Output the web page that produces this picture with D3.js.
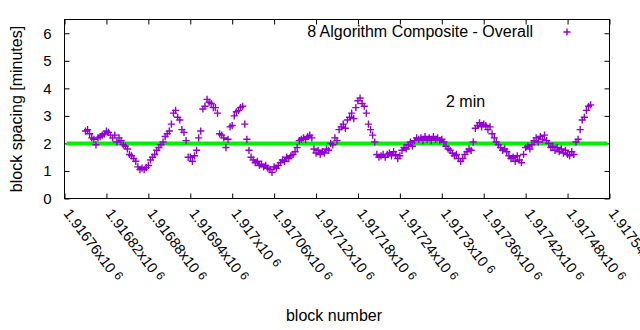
<!DOCTYPE html>
<html>
<head>
<meta charset="utf-8">
<script src="https://cdn.jsdelivr.net/npm/d3@7"></script>
<style>
  body { margin: 0; background: #fff; }
  svg { display: block; font-family: "Liberation Sans", Arial, sans-serif; }
</style>
</head>
<body>
<script>
// block spacing (minutes), one sample every 3 blocks starting at firstBlock
var firstBlock = 1916790;
var blockStep = 3;
var spacing = [
  2.45, 2.5, 2.35, 2.2, 2.15, 1.95, 2.2, 2.25, 2.3, 2.35,
  2.45, 2.4, 2.3, 2.2, 2.3, 2.05, 2.2, 2.1, 1.95, 1.9,
  1.8, 1.6, 1.55, 1.45, 1.35, 1.15, 1.05, 1.1, 1.05, 1.12,
  1.2, 1.4, 1.5, 1.6, 1.75, 1.85, 1.95, 2.05, 2.25, 2.35,
  2.45, 2.7, 3.1, 3.2, 2.95, 2.85, 2.5, 2.4, 2.1, 1.5,
  1.5, 1.35, 1.55, 1.75, 2.2, 2.45, 3.25, 3.35, 3.6, 3.5,
  3.45, 3.3, 3.3, 3.1, 2.35, 2.3, 2.2, 1.85, 2.15, 2.6,
  2.65, 3.0, 3.15, 3.2, 3.3, 3.35, 2.7, 2.15, 1.75, 1.5,
  1.4, 1.3, 1.35, 1.2, 1.25, 1.15, 1.2, 1.1, 1.05, 0.95,
  1.15, 1.1, 1.2, 1.3, 1.4, 1.35, 1.5, 1.45, 1.55, 1.6,
  1.7, 1.85, 2.1, 2.15, 2.2, 2.15, 2.25, 2.3, 2.2, 1.8,
  1.65, 1.75, 1.6, 1.7, 1.65, 1.8, 1.75, 2.0, 1.95, 2.2,
  2.1, 2.5, 2.6, 2.7, 2.55, 2.85, 2.95, 3.1, 2.9, 3.3,
  3.55, 3.65, 3.45, 3.35, 3.1, 2.7, 2.5, 2.3, 2.05, 1.6,
  1.5, 1.55, 1.6, 1.5, 1.6, 1.65, 1.55, 1.7, 1.6, 1.45,
  1.55, 1.75, 1.85, 1.8, 1.95, 2.05, 1.9, 2.1, 2.2, 2.15,
  2.2, 2.1, 2.25, 2.15, 2.2, 2.1, 2.25, 2.15, 2.2, 2.1,
  2.15, 2.05, 1.9, 1.8, 1.75, 1.65, 1.55, 1.6, 1.45, 1.35,
  1.45, 1.6, 1.7, 1.8, 1.75, 2.05, 2.55, 2.65, 2.75, 2.6,
  2.7, 2.65, 2.5, 2.6, 2.35, 2.2, 2.05, 1.95, 1.85, 1.75,
  1.8, 1.7, 1.55, 1.45, 1.5, 1.35, 1.55, 1.4, 1.3, 1.6,
  1.85, 1.9, 1.8, 1.95, 2.1, 2.2, 2.05, 2.25, 2.15, 2.3,
  2.1, 2.0, 1.85, 1.9, 1.75, 1.85, 1.7, 1.8, 1.65, 1.75,
  1.6, 1.55, 1.7, 1.6, 2.05, 2.15, 2.5, 2.85, 2.95, 3.2,
  3.35, 3.4
];
var target = 2;  // 2 minute reference line
var xTicks = [1916760, 1916820, 1916880, 1916940, 1917000, 1917060, 1917120,
              1917180, 1917240, 1917300, 1917360, 1917420, 1917480, 1917540];
var yTicks = [0, 1, 2, 3, 4, 5, 6];
var seriesName = "8 Algorithm Composite - Overall";

var W = 640, H = 330;
var plotL = 64.5, plotR = 609.5, plotT = 19.5, plotB = 198.5;

var svg = d3.select("body").append("svg").attr("width", W).attr("height", H);

var x = d3.scaleLinear().domain([1916760, 1917540]).range([plotL, plotR]);
var y = d3.scaleLinear().domain([0, 6.5]).range([plotB, plotT]);

var pts = spacing.map(function(v, i) { return {b: firstBlock + i * blockStep, v: v}; });

// axes with inward ticks, mirrored on top and right
var fmt = function(d) { return String(+(d / 1e6).toFixed(5)); };

var gx = svg.append("g").attr("transform", "translate(0," + plotB + ")")
  .call(d3.axisBottom(x).tickValues(xTicks).tickSizeInner(-5).tickSizeOuter(0).tickFormat(fmt));
gx.selectAll("text").each(function(d) {
  var t = d3.select(this);
  t.text(null)
   .attr("text-anchor", "start")
   .attr("dy", null).attr("y", null)
   .attr("transform", "translate(-2,15) rotate(53)")
   .style("font-size", "14.5px");
  t.append("tspan").text(fmt(d) + "x10");
  t.append("tspan").attr("dx", 4).attr("dy", -3).style("font-size", "12px").text("6");
});

svg.append("g").attr("transform", "translate(0," + plotT + ")")
  .call(d3.axisTop(x).tickValues(xTicks).tickSizeInner(-5).tickSizeOuter(0).tickFormat(""));

var gy = svg.append("g").attr("transform", "translate(" + plotL + ",0)")
  .call(d3.axisLeft(y).tickValues(yTicks).tickSizeInner(-5).tickSizeOuter(0)
    .tickPadding(13).tickFormat(d3.format("d")));
gy.selectAll("text").style("font-size", "15px");

svg.append("g").attr("transform", "translate(" + plotR + ",0)")
  .call(d3.axisRight(y).tickValues(yTicks).tickSizeInner(-5).tickSizeOuter(0).tickFormat(""));

svg.selectAll(".domain").remove();
svg.selectAll(".tick line").attr("stroke", "#000");
svg.selectAll(".tick text").attr("fill", "#000");

// reference line
svg.append("line")
  .attr("x1", x(1916760) + 2).attr("x2", x(1917540) - 2)
  .attr("y1", y(target)).attr("y2", y(target))
  .attr("stroke", "#00ee00").attr("stroke-width", 4);

// points drawn as "+"
var plus = function(cx, cy) {
  return "M" + (cx - 3.6) + "," + cy + "h7.2M" + cx + "," + (cy - 3.6) + "v7.2";
};
svg.append("path")
  .attr("d", pts.map(function(p) { return plus(x(p.b), y(p.v)); }).join(""))
  .attr("fill", "none").attr("stroke", "#9400d3").attr("stroke-width", 1.4);

svg.append("rect")
  .attr("x", plotL).attr("y", plotT).attr("width", plotR - plotL).attr("height", plotB - plotT)
  .attr("fill", "none").attr("stroke", "#000").attr("stroke-width", 1);

// legend
svg.append("text").attr("x", 533).attr("y", 37).attr("text-anchor", "end")
  .style("font-size", "16px").text(seriesName);
svg.append("path").attr("d", plus(567, 32))
  .attr("fill", "none").attr("stroke", "#9400d3").attr("stroke-width", 1.4);

svg.append("text").attr("x", 446).attr("y", 107).style("font-size", "16px").text("2 min");

svg.append("text").attr("x", 334).attr("y", 321).attr("text-anchor", "middle")
  .style("font-size", "16px").text("block number");
svg.append("text").attr("transform", "translate(22,109) rotate(-90)")
  .attr("text-anchor", "middle").style("font-size", "16px").text("block spacing [minutes]");
</script>
</body>
</html>
